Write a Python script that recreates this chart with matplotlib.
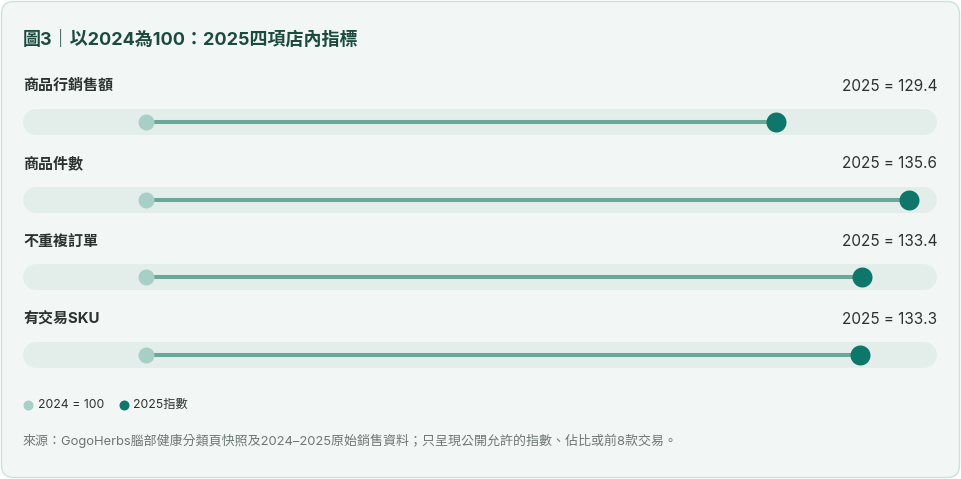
import matplotlib
matplotlib.use("Agg")
import matplotlib.pyplot as plt
from matplotlib.patches import FancyBboxPatch
from matplotlib.lines import Line2D

plt.rcParams['font.family'] = ['Inter', 'Noto Sans CJK TC', 'DejaVu Sans']

# ==== 資料 ====
metrics = ['商品行銷售額', '商品件數', '不重複訂單', '有交易SKU']
base_2024 = [100, 100, 100, 100]
index_2025 = [129.4, 135.6, 133.4, 133.3]

title = '圖3｜以2024為100：2025四項店內指標'
source = '來源：GogoHerbs腦部健康分類頁快照及2024–2025原始銷售資料；只呈現公開允許的指數、佔比或前8款交易。'

# ==== 樣式 ====
W, H = 961, 479
c_bg = '#f2f7f6'
c_border = '#cde1db'
c_track = '#e3eeeb'
c_2024 = '#a7cfc5'
c_line = '#6aa99a'
c_2025 = '#0f766b'
c_title = '#1c4a3f'
c_text = '#2a3330'
c_muted = '#6e7773'

fig = plt.figure(figsize=(W / 100, H / 100), dpi=100)
fig.patch.set_facecolor('white')

# 卡片背景
card = FancyBboxPatch((1.5 / W, 1.5 / H), (W - 3) / W, (H - 3) / H,
                      boxstyle='round,pad=0,rounding_size=0.013',
                      transform=fig.transFigure, facecolor=c_bg,
                      edgecolor=c_border, linewidth=1.0, mutation_aspect=W / H,
                      zorder=-10)
fig.patches.append(card)


def px(x, y):
    # 像素座標 -> figure 座標
    return x / W, 1 - y / H


# 主軸：軌道區域 x 23..937 px
row_gap = 77.7
top = 122 - row_gap / 2
ax = fig.add_axes([23 / W, 1 - (top + row_gap * 4) / H, 914 / W, row_gap * 4 / H])
ax.set_facecolor('none')
ax.set_zorder(5)
xmin, xmax = 94.28, 136.91
ax.set_xlim(xmin, xmax)
ax.set_ylim(len(metrics) - 0.5, -0.5)
ax.axis('off')

cap = (xmax - xmin) * 13 / 914
for i, (name, v0, v1) in enumerate(zip(metrics, base_2024, index_2025)):
    ax.plot([xmin + cap, xmax - cap], [i, i], color=c_track, lw=18.7,
            solid_capstyle='round', zorder=1, clip_on=False)
    ax.plot([v0, v1], [i, i], color=c_line, lw=2.9, solid_capstyle='butt', zorder=2)
    ax.plot(v0, i, 'o', color=c_2024, ms=11.5, mew=0, zorder=3)
    ax.plot(v1, i, 'o', color=c_2025, ms=14.4, mew=0, zorder=4)
    ax.text(0, i - 0.463, name, transform=ax.get_yaxis_transform(), ha='left', va='center',
            fontsize=10.8, fontweight='bold', color=c_text)
    ax.text(1, i - 0.463, f'2025 = {v1:.1f}', transform=ax.get_yaxis_transform(),
            ha='right', va='center', fontsize=11, color=c_text)

# 標題
fig.text(*px(23, 40), title, ha='left', va='center', fontsize=13,
         fontweight='bold', color=c_title)

# 圖例
fig.lines.append(Line2D([28 / W], [1 - 405 / H], marker='o', color=c_2024, ms=7.2,
                        mew=0, transform=fig.transFigure))
fig.text(*px(38, 405), '2024 = 100', ha='left', va='center', fontsize=8.8, color=c_text)
fig.lines.append(Line2D([124 / W], [1 - 405 / H], marker='o', color=c_2025, ms=7.2,
                        mew=0, transform=fig.transFigure))
fig.text(*px(133, 405), '2025指數', ha='left', va='center', fontsize=8.8, color=c_text)

# 來源
fig.text(*px(23, 441), source, ha='left', va='center', fontsize=9.35, color=c_muted)

fig.savefig('out.png', dpi=100, facecolor='white')
